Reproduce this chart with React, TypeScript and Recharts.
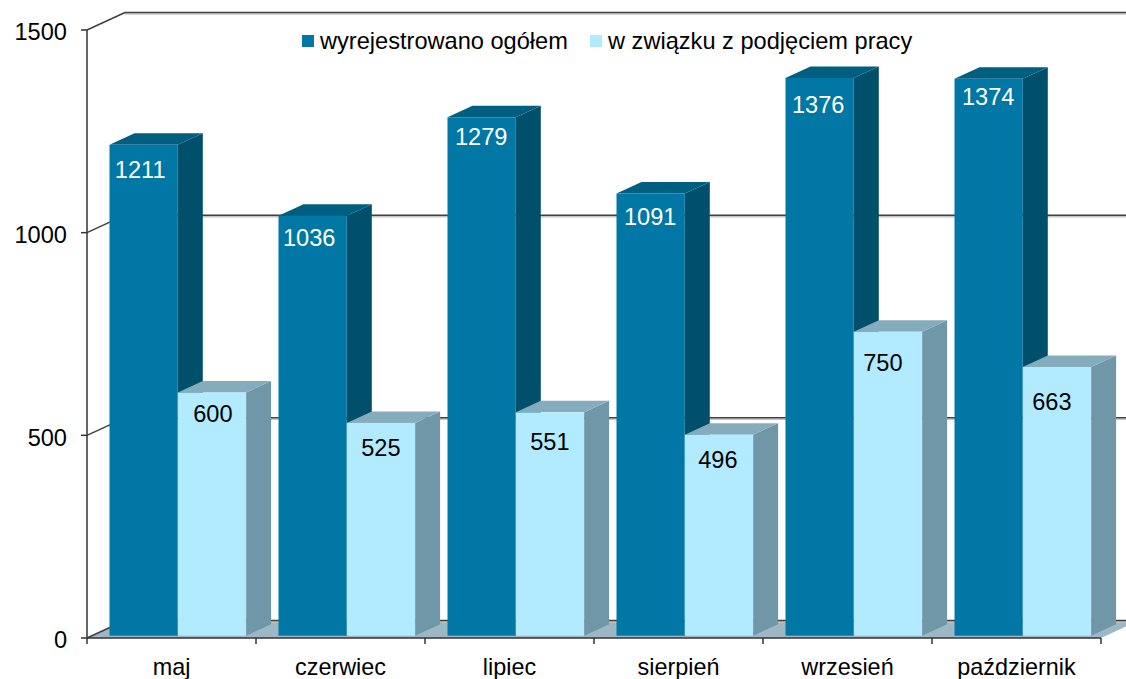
import React from "react";
import { BarChart, Bar, XAxis, YAxis, CartesianGrid, LabelList, Legend } from "recharts";

const months = ["maj", "czerwiec", "lipiec", "sierpień", "wrzesień", "październik"];
const registeredOut = [1211, 1036, 1279, 1091, 1376, 1374];
const tookJob = [600, 525, 551, 496, 750, 663];
const yTicks = [0, 500, 1000, 1500];
const seriesNames = ["wyrejestrowano ogółem", "w związku z podjęciem pracy"];

const rows = months.map((month, i) => ({ month, a: registeredOut[i], b: tookJob[i] }));

const W = 1126, H = 679;
const M = { top: 30, right: 25, bottom: 41, left: 87 };
const BAND = (W - M.left - M.right) / months.length;
const AXIS_Y = H - M.bottom;
const FONT = "'Liberation Sans', Arial, sans-serif";
const WALL = { dx: 38, dy: 17.5 };
const BOX = { dx: 25, dy: 11.5 };
const SHIFT = { x: 6.5, y: -2.3 };

// hand placement of the value labels inside each bar, as in the source picture
const nudgeA = [[-3.5, 25.5], [-3.5, 22], [-0.5, 20], [-0.5, 24], [-1.5, 27], [-0.5, 18]];
const nudgeB = [[1, 21], [0, 25], [0, 30], [-1, 25], [-5, 31], [-5, 35]];

const makeBox = (front: string, top: string, side: string) => (p: any) => {
  const x = p.x + SHIFT.x, y = p.y + SHIFT.y, w = p.width, h = p.height;
  const { dx, dy } = BOX;
  return (
    <g>
      <polygon points={`${x + w},${y} ${x + w + dx},${y - dy} ${x + w + dx},${y + h - dy} ${x + w},${y + h}`} fill={side} />
      <polygon points={`${x},${y} ${x + dx},${y - dy} ${x + w + dx},${y - dy} ${x + w},${y}`} fill={top} />
      <rect x={x} y={y} width={w} height={h} fill={front} />
    </g>
  );
};

const makeLabel = (fill: string, nudge: number[][]) => (p: any) => (
  <text
    x={p.x + SHIFT.x + p.width / 2 + nudge[p.index][0]}
    y={p.y + SHIFT.y + nudge[p.index][1]}
    fill={fill}
    fontSize={23.6}
    fontFamily={FONT}
    textAnchor="middle"
    dominantBaseline="central"
  >
    {p.value}
  </text>
);

const wallLine = (p: any) => {
  const { x1, x2, y1, index } = p;
  const bx = x1 + WALL.dx, by = y1 - WALL.dy, ex = x2 + WALL.dx;
  const isFloor = y1 >= AXIS_Y - 0.5;
  return (
    <g key={`wall-${index}`}>
      {isFloor && (
        <polygon points={`${x1},${y1} ${bx},${by} ${ex},${by} ${x2},${y1}`} fill="#9db8c4" />
      )}
      <line x1={bx} y1={by + 1.5} x2={ex} y2={by + 1.5} stroke="#c4c4c4" strokeWidth={1.5} />
      <line x1={x1} y1={y1} x2={bx} y2={by} stroke="#404040" strokeWidth={1.5} />
      <line x1={bx} y1={by} x2={ex} y2={by} stroke="#404040" strokeWidth={1.5} />
    </g>
  );
};

const CategoryTick = (p: any) => {
  const { x, payload, index } = p;
  const left = x - BAND / 2;
  return (
    <g>
      <line x1={left} y1={AXIS_Y} x2={left} y2={AXIS_Y + 6} stroke="#333" strokeWidth={1.5} />
      {index === months.length - 1 && (
        <line x1={left + BAND} y1={AXIS_Y} x2={left + BAND} y2={AXIS_Y + 6} stroke="#333" strokeWidth={1.5} />
      )}
      <text x={x} y={675} textAnchor="middle" fontSize={23.4} fontFamily={FONT} fill="#000">
        {payload.value}
      </text>
    </g>
  );
};

const LegendBox = (p: any) => {
  const at = [302, 590];
  const items = [...(p.payload || [])].sort((a: any, b: any) => seriesNames.indexOf(a.value) - seriesNames.indexOf(b.value));
  return (
    <div style={{ position: "relative", height: 30, width: W }}>
      {items.map((e: any, i: number) => (
        <div key={e.value} style={{ position: "absolute", left: at[i], top: 0, display: "flex", alignItems: "center", height: 30, whiteSpace: "nowrap" }}>
          <span style={{ width: 12, height: 12, background: e.color, marginRight: 6, display: "inline-block" }} />
          <span style={{ fontFamily: FONT, fontSize: 23.6, color: "#000" }}>{e.value}</span>
        </div>
      ))}
    </div>
  );
};

export default function App() {
  return (
    <div style={{ position: "absolute", left: 0, top: 0, width: W, height: H, background: "#fff" }}>
      <BarChart
        width={W}
        height={H}
        data={rows}
        margin={{ top: M.top, right: M.right, bottom: 0, left: 0 }}
        barGap={0}
        barSize={68.3}
      >
        <CartesianGrid horizontal={wallLine} vertical={false} />
        <XAxis
          dataKey="month"
          tick={CategoryTick}
          tickLine={false}
          axisLine={{ stroke: "#333", strokeWidth: 1.5 }}
          height={M.bottom}
          interval={0}
        />
        <YAxis
          domain={[0, 1500]}
          ticks={yTicks}
          width={M.left}
          tickSize={6}
          tickMargin={14}
          axisLine={{ stroke: "#333", strokeWidth: 1.5 }}
          tickLine={{ stroke: "#333", strokeWidth: 1.5 }}
          tick={{ fontSize: 23.6, fontFamily: FONT, fill: "#000", dy: 2 }}
        />
        <Legend
          layout="horizontal"
          align="center"
          verticalAlign="middle"
          content={LegendBox}
          wrapperStyle={{ left: 0, top: 26, width: W }}
        />
        <Bar dataKey="a" name={seriesNames[0]} fill="#0077a5" isAnimationActive={false} shape={makeBox("#0077a5", "#005f80", "#00506c")}>
          <LabelList dataKey="a" content={makeLabel("#ffffff", nudgeA)} />
        </Bar>
        <Bar dataKey="b" name={seriesNames[1]} fill="#b2ebff" isAnimationActive={false} shape={makeBox("#b2ebff", "#84acbc", "#7097a8")}>
          <LabelList dataKey="b" content={makeLabel("#000000", nudgeB)} />
        </Bar>
      </BarChart>
    </div>
  );
}
